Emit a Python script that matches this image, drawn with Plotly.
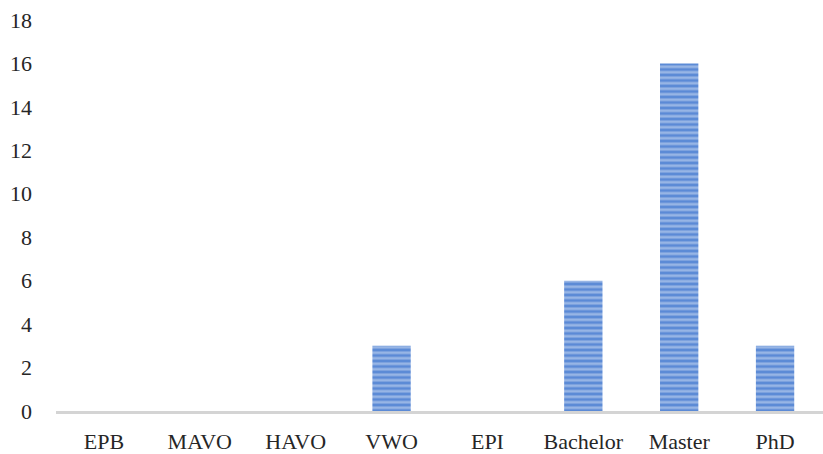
import plotly.graph_objects as go

categories = ["EPB", "MAVO", "HAVO", "VWO", "EPI", "Bachelor", "Master", "PhD"]
counts = [0, 0, 0, 3, 0, 6, 16, 3]
y_ticks = [0, 2, 4, 6, 8, 10, 12, 14, 16, 18]

fig = go.Figure(
    go.Bar(
        x=categories,
        y=counts,
        width=0.4,
        marker=dict(
            color="#5b8ad6",
            line=dict(width=0),
            pattern=dict(
                shape="-",
                fgcolor="#d3e0f3",
                bgcolor="#5b8ad6",
                size=5.5,
                solidity=0.5,
                fillmode="overlay",
            ),
        ),
    )
)

font_family = "Liberation Serif, DejaVu Serif, serif"

fig.update_layout(
    width=823,
    height=454,
    margin=dict(l=56, r=0, t=20, b=43),
    paper_bgcolor="white",
    plot_bgcolor="white",
    showlegend=False,
    font=dict(family=font_family, size=22, color="#262626"),
    bargap=0.6,
)
fig.update_xaxes(
    showgrid=False,
    showline=True,
    linecolor="#d4d4d4",
    linewidth=3,
    ticks="",
    tickfont=dict(size=22),
    ticklabelstandoff=9,
)
fig.update_yaxes(
    range=[0, 18],
    tickvals=y_ticks,
    showgrid=False,
    zeroline=False,
    showline=False,
    ticks="",
    tickfont=dict(size=22),
    ticklabelstandoff=23,
)

fig.write_html("out.html")
